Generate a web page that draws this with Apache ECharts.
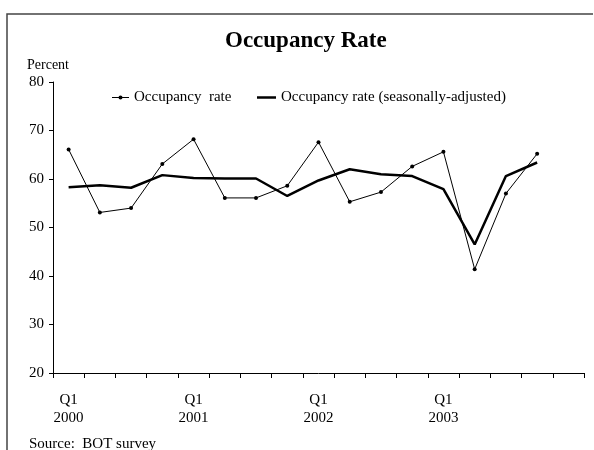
<!DOCTYPE html>
<html>
<head>
<meta charset="utf-8">
<script src="https://cdn.jsdelivr.net/npm/echarts@6/dist/echarts.min.js"></script>
<style>
  html, body { margin: 0; padding: 0; background: #fff; }
  #chart { width: 594px; height: 450px; }
</style>
</head>
<body>
<div id="chart"></div>
<script>
// quarters 2000Q1 .. 2004Q1 (last one has no data)
var quarters = ['Q1 2000', 'Q2 2000', 'Q3 2000', 'Q4 2000',
                'Q1 2001', 'Q2 2001', 'Q3 2001', 'Q4 2001',
                'Q1 2002', 'Q2 2002', 'Q3 2002', 'Q4 2002',
                'Q1 2003', 'Q2 2003', 'Q3 2003', 'Q4 2003',
                'Q1 2004'];
var occupancy = [66.1, 53.1, 54.0, 63.1, 68.2, 56.1, 56.1, 58.6,
                 67.6, 55.3, 57.3, 62.6, 65.6, 41.4, 57.0, 65.2];
var occupancySA = [58.3, 58.7, 58.2, 60.8, 60.2, 60.1, 60.1, 56.5,
                   59.7, 62.0, 61.0, 60.6, 57.9, 46.5, 60.6, 63.4];
var labelYears = ['2000', '2001', '2002', '2003'];

var serif = 'Liberation Serif';
var chart = echarts.init(document.getElementById('chart'));

// legend icons: thin line with dot / thick line (leading moves keep the box size)
var iconDot = 'path://M0,0 M17,8 M0,3.5 L17,3.5 L17,4.5 L0,4.5 Z M6.5,4 A2,2 0 1 1 10.5,4 A2,2 0 1 1 6.5,4 Z';
var iconThick = 'path://M0,0 M19,8 M0,2.75 L19,2.75 L19,5.25 L0,5.25 Z';

var legendText = { fontFamily: serif, fontSize: 15, color: '#000' };

var option = {
  backgroundColor: '#ffffff',
  animation: false,
  title: [{
    text: 'Occupancy Rate',
    left: 220,
    top: 25,
    textStyle: { fontFamily: serif, fontSize: 23, fontWeight: 'bold', color: '#000' }
  }, {
    text: 'Source:  BOT survey',
    left: 24,
    top: 432,
    textStyle: { fontFamily: serif, fontSize: 15, fontWeight: 'normal', color: '#000' }
  }],
  legend: [{
    left: 112,
    top: 90,
    padding: 0,
    itemWidth: 17,
    itemHeight: 8,
    itemStyle: { borderWidth: 0 },
    textStyle: legendText,
    data: [{ name: 'Occupancy  rate', icon: iconDot }]
  }, {
    left: 257,
    top: 90,
    padding: 0,
    itemWidth: 19,
    itemHeight: 8,
    itemStyle: { borderWidth: 0 },
    textStyle: legendText,
    data: [{ name: 'Occupancy rate (seasonally-adjusted)', icon: iconThick }]
  }],
  grid: { left: 53, right: 10, top: 82, bottom: 77 },
  xAxis: {
    type: 'category',
    data: quarters,
    boundaryGap: true,
    axisLine: { lineStyle: { color: '#000', width: 1 } },
    axisTick: { show: true, length: 5, lineStyle: { color: '#000' } },
    axisLabel: {
      interval: 0,
      margin: 18,
      lineHeight: 18,
      fontFamily: serif,
      fontSize: 15,
      color: '#000',
      formatter: function (v) {
        var p = v.split(' ');
        if (p[0] === 'Q1' && labelYears.indexOf(p[1]) >= 0) return p[0] + '\n' + p[1];
        return '';
      }
    },
    splitLine: { show: false }
  },
  yAxis: {
    type: 'value',
    min: 20,
    max: 80,
    interval: 10,
    name: 'Percent',
    nameLocation: 'end',
    nameGap: 10,
    nameTextStyle: { fontFamily: serif, fontSize: 14, color: '#000', align: 'left', padding: [0, 0, 0, -26] },
    axisLine: { show: true, lineStyle: { color: '#000', width: 1 } },
    axisTick: { show: true, length: 4, lineStyle: { color: '#000' } },
    axisLabel: { fontFamily: serif, fontSize: 15, color: '#000', margin: 9 },
    splitLine: { show: false }
  },
  series: [{
    name: 'Occupancy  rate',
    type: 'line',
    data: occupancy,
    symbol: 'circle',
    symbolSize: 4,
    showSymbol: true,
    lineStyle: { color: '#000', width: 1 },
    itemStyle: { color: '#000' }
  }, {
    name: 'Occupancy rate (seasonally-adjusted)',
    type: 'line',
    data: occupancySA,
    showSymbol: false,
    symbol: 'none',
    lineStyle: { color: '#000', width: 2.5 },
    itemStyle: { color: '#000' }
  }],
  graphic: [{
    type: 'polyline',
    silent: true,
    shape: { points: [[7, 450], [7, 14], [593, 14]] },
    style: { stroke: '#444', lineWidth: 1.5, fill: null }
  }]
};

chart.setOption(option);
</script>
</body>
</html>
